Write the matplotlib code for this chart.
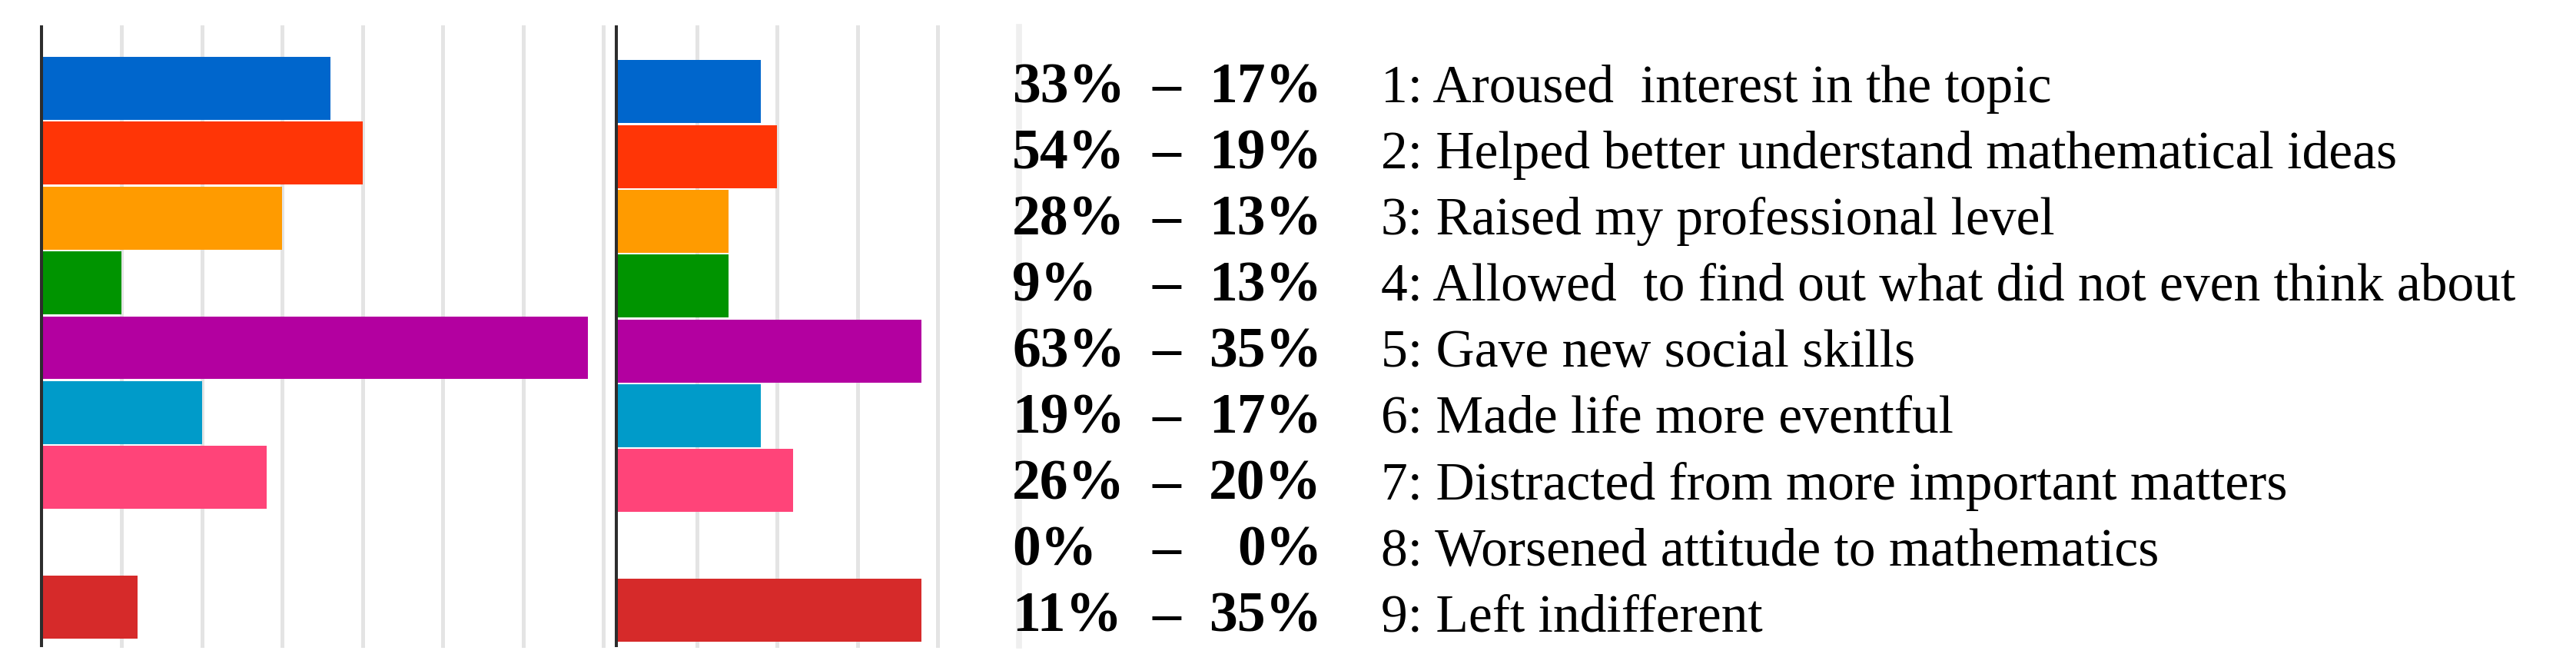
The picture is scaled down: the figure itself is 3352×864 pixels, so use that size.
import matplotlib
matplotlib.use("Agg")
import matplotlib.pyplot as plt
from matplotlib.lines import Line2D

#### Data ####

#Answers (number of respondents) for the left and right group
left_counts = [18, 20, 15, 5, 34, 10, 14, 0, 6]
right_counts = [9, 10, 7, 7, 19, 9, 11, 0, 19]

#Percentages written next to the bars
left_pct = [33, 54, 28, 9, 63, 19, 26, 0, 11]
right_pct = [17, 19, 13, 13, 35, 17, 20, 0, 35]

#Statements
categories = [
    "1: Aroused  interest in the topic",
    "2: Helped better understand mathematical ideas",
    "3: Raised my professional level",
    "4: Allowed  to find out what did not even think about",
    "5: Gave new social skills",
    "6: Made life more eventful",
    "7: Distracted from more important matters",
    "8: Worsened attitude to mathematics",
    "9: Left indifferent",
]

colors = ["#0066cc", "#ff3506", "#ff9b00", "#009400", "#b300a0",
          "#009bc9", "#ff4479", "#66aa00", "#d62a2a"]

#### Settings ####

W, H = 3352, 864
fig = plt.figure(figsize=(W / 100, H / 100), dpi=100)

#Pixel helpers (measured from the top left corner)
def fx(px):
    return px / W

def fy(py):
    return 1 - py / H

def setup(ax, counts, xmax, ymax, ylim):
    ys = range(len(counts))
    ax.barh(ys, counts, height=0.97, color=colors, zorder=2)
    ax.set_xlim(0, xmax)
    ax.set_ylim(*ylim)
    for x in range(5, ymax + 1, 5):
        ax.axvline(x, color="#e4e4e4", lw=3.6, zorder=1, clip_on=False)
    for s in ["top", "right", "bottom"]:
        ax.spines[s].set_visible(False)
    ax.spines["left"].set_color("#2d2d2d")
    ax.spines["left"].set_linewidth(2.9)
    ax.spines["left"].set_zorder(3)
    ax.set_xticks([])
    ax.set_yticks([])

#Left panel
ax1 = fig.add_axes([fx(54), fy(840), fx(798 - 54), (840 - 35) / H])
setup(ax1, left_counts, 35.6, 35, (8.593, -0.948))

#Right panel
ax2 = fig.add_axes([fx(802), fy(840), fx(1220 - 802), (840 - 35) / H])
setup(ax2, right_counts, 20, 20, (8.545, -1.0))

#Light border in front of the text
fig.add_artist(Line2D([fx(1326), fx(1326)], [fy(35), fy(840)],
                      color="#efefef", lw=5.5))

#Text rows
for i in range(len(categories)):
    y = fy(133 + 86.1 * i)
    fig.text(fx(1317), y, str(left_pct[i]) + "%", family="Liberation Serif",
             weight="bold", fontsize=53, va="baseline", ha="left")
    fig.text(fx(1518), y, "\u2013", family="Liberation Serif",
             weight="bold", fontsize=53, va="baseline", ha="center")
    fig.text(fx(1720), y, str(right_pct[i]) + "%", family="Liberation Serif",
             weight="bold", fontsize=53, va="baseline", ha="right")
    fig.text(fx(1797), y, categories[i], family="Liberation Serif",
             fontsize=50, va="baseline", ha="left")

fig.savefig("out.png", dpi=100)
